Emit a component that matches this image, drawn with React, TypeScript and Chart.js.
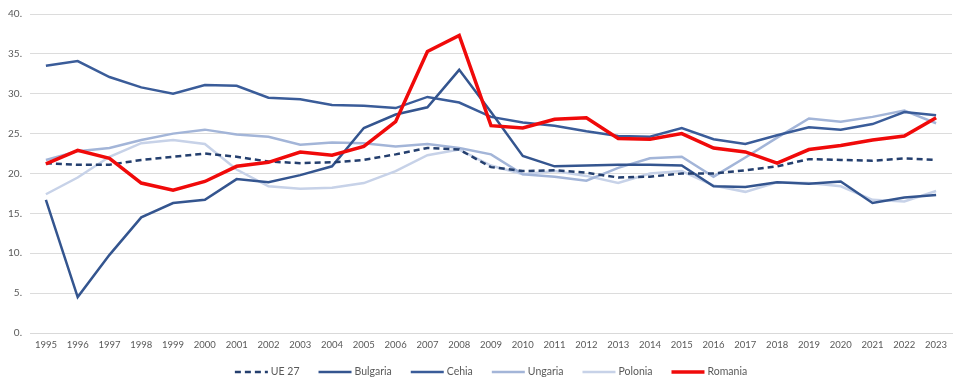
import React, { useEffect, useRef } from "react";
import { Chart, registerables } from "chart.js";

Chart.register(...registerables);

const years = ["1995","1996","1997","1998","1999","2000","2001","2002","2003","2004","2005","2006","2007","2008","2009","2010","2011","2012","2013","2014","2015","2016","2017","2018","2019","2020","2021","2022","2023"];

const ue27 = [21.3, 21.1, 21.1, 21.7, 22.1, 22.5, 22.1, 21.5, 21.3, 21.4, 21.7, 22.4, 23.2, 23.0, 20.8, 20.3, 20.4, 20.1, 19.5, 19.6, 20.0, 20.0, 20.4, 20.9, 21.8, 21.7, 21.6, 21.9, 21.7];
const bulgaria = [16.7, 4.5, 9.8, 14.5, 16.3, 16.7, 19.3, 18.9, 19.8, 20.9, 25.7, 27.4, 28.3, 33.0, 27.7, 22.2, 20.9, 21.0, 21.1, 21.1, 21.0, 18.4, 18.3, 18.9, 18.7, 19.0, 16.3, 17.0, 17.3];
const cehia = [33.5, 34.1, 32.1, 30.8, 30.0, 31.1, 31.0, 29.5, 29.3, 28.6, 28.5, 28.2, 29.6, 28.9, 27.1, 26.4, 26.0, 25.3, 24.7, 24.6, 25.7, 24.3, 23.7, 24.8, 25.8, 25.5, 26.2, 27.7, 27.3];
const ungaria = [21.7, 22.8, 23.2, 24.2, 25.0, 25.5, 24.9, 24.6, 23.6, 23.9, 23.8, 23.4, 23.7, 23.2, 22.4, 19.9, 19.6, 19.1, 20.7, 21.9, 22.1, 19.6, 22.0, 24.5, 26.9, 26.5, 27.1, 27.9, 26.3];
const polonia = [17.4, 19.5, 22.1, 23.8, 24.2, 23.7, 20.5, 18.4, 18.1, 18.2, 18.8, 20.3, 22.3, 23.0, 21.0, 19.9, 20.3, 19.7, 18.8, 20.0, 20.3, 18.5, 17.7, 18.9, 18.8, 18.4, 16.7, 16.5, 17.8];
const romania = [21.2, 22.9, 21.9, 18.8, 17.9, 19.0, 20.9, 21.4, 22.7, 22.3, 23.4, 26.5, 35.3, 37.3, 26.0, 25.7, 26.8, 27.0, 24.4, 24.3, 25.0, 23.2, 22.7, 21.3, 23.0, 23.5, 24.2, 24.7, 27.0];

const yTicks = [0, 5, 10, 15, 20, 25, 30, 35, 40];

const FONT = "Lato, 'Open Sans', sans-serif";

const lineLegend = {
  id: "lineLegend",
  afterDraw(chart: any) {
    const ctx = chart.ctx as CanvasRenderingContext2D;
    const ds = chart.data.datasets as any[];
    const sample = 33;
    const gapText = 3;
    const gapItem = 19;
    ctx.save();
    ctx.font = `10.5px ${FONT}`;
    const widths = ds.map((d) => sample + gapText + ctx.measureText(d.label).width);
    const total = widths.reduce((a, b) => a + b, 0) + gapItem * (ds.length - 1);
    const area = chart.chartArea;
    let x = (area.left + area.right) / 2 - total / 2;
    const y = 372;
    ds.forEach((d, i) => {
      ctx.beginPath();
      ctx.setLineDash(d.borderDash || []);
      ctx.lineWidth = d.borderWidth;
      ctx.strokeStyle = d.borderColor;
      ctx.moveTo(x, y);
      ctx.lineTo(x + sample, y);
      ctx.stroke();
      ctx.setLineDash([]);
      ctx.fillStyle = "#595959";
      ctx.textBaseline = "middle";
      ctx.textAlign = "left";
      ctx.fillText(d.label, x + sample + gapText, y);
      x += widths[i] + gapItem;
    });
    ctx.restore();
  },
};

export default function App() {
  const canvasRef = useRef<HTMLCanvasElement | null>(null);

  useEffect(() => {
    document.body.style.margin = "0";
    const canvas = canvasRef.current;
    if (!canvas) return;
    const common = {
      pointRadius: 0,
      pointHoverRadius: 0,
      tension: 0,
      fill: false,
    };
    const chart = new Chart(canvas, {
      type: "line",
      data: {
        labels: years,
        datasets: [
          { ...common, label: "UE 27", data: ue27, borderColor: "#243F6E", backgroundColor: "#243F6E", borderWidth: 2.5, borderDash: [6, 4], order: 2 },
          { ...common, label: "Bulgaria", data: bulgaria, borderColor: "#34558F", backgroundColor: "#34558F", borderWidth: 2.5, order: 3 },
          { ...common, label: "Cehia", data: cehia, borderColor: "#3A5C99", backgroundColor: "#3A5C99", borderWidth: 2.5, order: 4 },
          { ...common, label: "Ungaria", data: ungaria, borderColor: "#A3B5D8", backgroundColor: "#A3B5D8", borderWidth: 2.5, order: 5 },
          { ...common, label: "Polonia", data: polonia, borderColor: "#C7D2E8", backgroundColor: "#C7D2E8", borderWidth: 2.5, order: 6 },
          { ...common, label: "Romania", data: romania, borderColor: "#F00A0A", backgroundColor: "#F00A0A", borderWidth: 3.5, order: 1 },
        ],
      },
      options: {
        animation: false,
        responsive: false,
        maintainAspectRatio: false,
        layout: { padding: { top: 5, right: 8, left: 0, bottom: 33 } },
        plugins: {
          tooltip: { enabled: false },
          legend: { display: false },
        },
        scales: {
          x: {
            offset: true,
            grid: { display: false, drawTicks: false },
            border: { display: true, color: "#D9D9D9", width: 1 },
            ticks: {
              color: "#595959",
              font: { family: FONT, size: 9.5 },
              maxRotation: 0,
              autoSkip: false,
              padding: 6,
            },
            afterFit: (s: any) => { s.height = 22; },
          },
          y: {
            min: 0,
            max: 40,
            afterBuildTicks: (s: any) => { s.ticks = yTicks.map((v) => ({ value: v })); },
            grid: { color: "#DCDCDC", drawTicks: false },
            border: { display: false },
            ticks: {
              color: "#595959",
              font: { family: FONT, size: 10 },
              padding: 8,
              callback: (v: any) => `${v}.`,
            },
            afterFit: (s: any) => { s.width = 30; },
          },
        },
      },
      plugins: [lineLegend],
    });
    return () => chart.destroy();
  }, []);

  return (
    <div style={{ width: 960, height: 388 }}>
      <canvas ref={canvasRef} width={960} height={388} style={{ display: "block" }} />
    </div>
  );
}
